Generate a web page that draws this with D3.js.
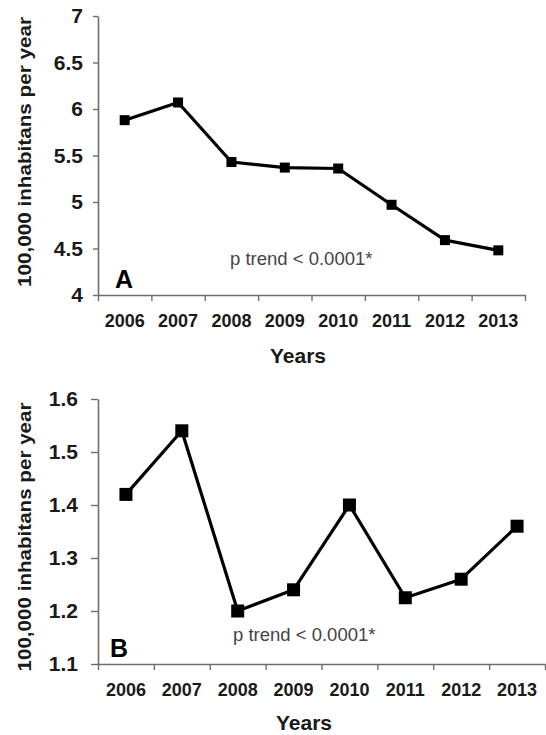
<!DOCTYPE html>
<html><head><meta charset="utf-8">
<script src="https://cdn.jsdelivr.net/npm/d3@7"></script>
<style>body{margin:0;background:#fff}svg{display:block}</style>
</head><body>
<script>
const years = ["2006","2007","2008","2009","2010","2011","2012","2013"];
const valuesA = [5.88, 6.07, 5.43, 5.37, 5.36, 4.97, 4.59, 4.48];
const valuesB = [1.42, 1.54, 1.20, 1.24, 1.40, 1.225, 1.26, 1.36];
const ticksA = [4, 4.5, 5, 5.5, 6, 6.5, 7];
const ticksB = [1.1, 1.2, 1.3, 1.4, 1.5, 1.6];
const yLabel = "100,000 inhabitans per year";
const xLabel = "Years";
const pText = "p trend < 0.0001*";

const svg = d3.select("body").append("svg").attr("width",546).attr("height",735);
const FONT = "'Liberation Sans', Arial, sans-serif";
const axisColor = "#6e6e6e";

function panel(cfg){
  const g = svg.append("g");
  const x = d3.scaleBand().domain(years).range([cfg.x0, cfg.x1]);
  const xb = d3.scaleLinear().domain([0, years.length]).range([cfg.x0, cfg.x1]);
  const y = d3.scaleLinear().domain(cfg.domain).range([cfg.yBottom, cfg.yTop]);

  const xa = g.append("g").attr("transform",`translate(0,${cfg.yBottom})`)
    .call(d3.axisBottom(xb).tickValues(d3.range(years.length+1)).tickFormat("").tickSize(6).tickSizeOuter(0));
  xa.select(".domain").attr("stroke",axisColor).attr("stroke-width",1.6);
  xa.selectAll(".tick line").attr("stroke",axisColor).attr("stroke-width",1.4);

  const xl = g.append("g").attr("transform",`translate(0,${cfg.yBottom})`)
    .call(d3.axisBottom(x).tickSize(0).tickPadding(cfg.xLabPad));
  xl.select(".domain").remove();
  xl.selectAll("text").attr("font-family",FONT).attr("font-weight","bold")
    .attr("font-size",18).attr("fill","#1a1a1a");

  const ya = g.append("g").attr("transform",`translate(${cfg.x0},0)`)
    .call(d3.axisLeft(y).tickValues(cfg.ticks).tickFormat(d3.format("")).tickSize(cfg.ytick).tickPadding(cfg.yPad).tickSizeOuter(0));
  ya.select(".domain").attr("stroke",axisColor).attr("stroke-width",1.6);
  ya.selectAll(".tick line").attr("stroke",axisColor).attr("stroke-width",1.4);
  ya.selectAll("text").attr("font-family",FONT).attr("font-weight","bold")
    .attr("font-size",21).attr("fill","#1a1a1a");

  const line = d3.line().x((d,i)=>x(years[i])+x.bandwidth()/2).y(d=>y(d));
  g.append("path").datum(cfg.values).attr("d",line).attr("fill","none")
    .attr("stroke","#000").attr("stroke-width",3.2).attr("stroke-linejoin","round");
  g.selectAll("rect.m").data(cfg.values).enter().append("rect").attr("class","m")
    .attr("x",(d,i)=>x(years[i])+x.bandwidth()/2-cfg.ms/2)
    .attr("y",d=>y(d)-cfg.ms/2).attr("width",cfg.ms).attr("height",cfg.ms)
    .attr("fill","#000");

  g.append("text").attr("transform",`translate(${cfg.ylx},${cfg.ylc}) rotate(-90)`)
    .attr("text-anchor","middle").attr("font-family",FONT).attr("font-weight","bold")
    .attr("font-size",19).attr("fill","#1a1a1a")
    .attr("textLength",cfg.ylLen).attr("lengthAdjust","spacingAndGlyphs").text(yLabel);
  g.append("text").attr("x",cfg.xlx).attr("y",cfg.xly).attr("text-anchor","middle")
    .attr("font-family",FONT).attr("font-weight","bold").attr("font-size",21).attr("fill","#1a1a1a").text(xLabel);
  g.append("text").attr("x",cfg.lx).attr("y",cfg.ly).attr("font-family",FONT).attr("font-weight","bold")
    .attr("font-size",25).attr("fill","#000").text(cfg.letter);
  g.append("text").attr("x",cfg.px).attr("y",cfg.py).attr("font-family",FONT)
    .attr("font-size",18.5).attr("fill","#444").text(pText);
}

panel({x0:98, x1:525, yTop:16, yBottom:295, domain:[4,7], ticks:ticksA, values:valuesA,
  ytick:5, yPad:10, xLabPad:19, ms:10, ylx:31, ylc:152, ylLen:270, xlx:298, xly:363,
  letter:"A", lx:115, ly:288, px:230, py:265});
panel({x0:98, x1:545, yTop:399, yBottom:664, domain:[1.1,1.6], ticks:ticksB, values:valuesB,
  ytick:7, yPad:13, xLabPad:19, ms:13, ylx:31, ylc:537, ylLen:269, xlx:304, xly:730,
  letter:"B", lx:110, ly:657, px:233, py:641});
</script>
</body></html>
